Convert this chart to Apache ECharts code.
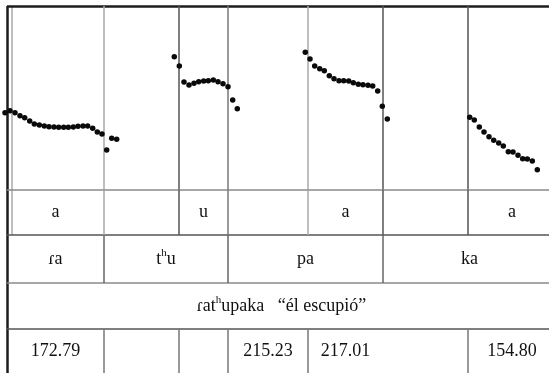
<!DOCTYPE html>
<html>
<head>
<meta charset="utf-8">
<script src="https://cdn.jsdelivr.net/npm/echarts@6/dist/echarts.min.js"></script>
<style>
  html, body { margin: 0; padding: 0; background: #fff; }
  #main { width: 549px; height: 373px; }
</style>
</head>
<body>
<div id="main"></div>
<script>
// pitch contour, one list per vowel (x = time position, y = height of the pitch trace)
const seg1X = [5, 10, 15, 20, 24.7, 29.7, 34.3, 39.3, 44.3, 49, 54, 58.7, 63.7, 68.3, 73.3, 78, 83, 87.7, 92.7, 97.3, 102, 106.7, 111.7, 116.7];
const seg1Y = [77.3, 79.3, 77.3, 74.3, 72.3, 69, 66, 65, 64, 63.3, 63, 62.7, 62.7, 62.7, 63, 63.7, 64, 64, 61.7, 58, 56, 40, 51.7, 50.7];
const seg2X = [174.3, 179.3, 184, 189, 194, 198.7, 203.7, 208.3, 213.3, 218, 223, 228, 232.7, 237.3];
const seg2Y = [133.3, 124, 108, 105, 106.7, 108.3, 109, 109.3, 110, 108.3, 106.3, 103.3, 90, 81.3];
const seg3X = [305.3, 310, 314.7, 319.7, 324.3, 329.3, 334, 339, 343.7, 348.7, 353.3, 358.3, 363, 368, 372.7, 377.7, 382.3, 387.3];
const seg3Y = [137.7, 131, 124, 121.3, 119.3, 114.3, 111.3, 109.3, 109.3, 109, 107.3, 105.7, 105.3, 104.7, 104, 99, 83.7, 71];
const seg4X = [469.7, 474.3, 479.3, 484, 489, 493.7, 498.7, 503.3, 508.3, 513, 518, 522.7, 527.3, 532.3, 537.3];
const seg4Y = [72.7, 70, 63, 58, 53.3, 49.7, 47, 44, 38.3, 38, 34.7, 31.3, 31, 29, 20.3];

// segment boundaries along the time axis
const colEdges = [7, 104, 179, 228, 308, 383, 468, 556];
const rowEdges = [0, 45, 93, 139, 183];

// table texts
const row1Labels = ['a', '', 'u', '', 'a', '', 'a'];
const row2Labels = ['{n|ɾa}', '{n|t}{s|h}{n|u}', '{n|pa}', '{n|ka}'];
const row2Spans = [1, 2, 2, 2];
const row3Label = '{n|ɾat}{s|h}{n|upaka   “él escupió”}';
const row4Labels = ['172.79', '', '', '215.23', '217.01', '', '154.80'];

// which segment boundaries are ruled in each part
const plotRules = [1, 2, 3, 4, 5, 6];
const row2Rules = [1, 3, 5];
const row4Rules = [1, 2, 3, 4, 6];

const xMax = 549;
const plotMax = 184;
const ink = '#111';
const font = '"Liberation Serif", "DejaVu Serif", serif';

// colours of the vertical rules (light / dark like the original print)
const ruleColor = { 0: '#1c1c1c', 1: '#a8a8a8', 2: '#555', 3: '#777', 4: '#a8a8a8', 5: '#555', 6: '#555' };

const zip = (xs, ys) => xs.map((x, i) => [x, ys[i]]);
const dots = [].concat(zip(seg1X, seg1Y), zip(seg2X, seg2Y), zip(seg3X, seg3Y), zip(seg4X, seg4Y));

let seg = (x0, y0, x1, y1, color, width) => [
    { coord: [x0, y0], lineStyle: { color: color, width: width, type: 'solid' } },
    { coord: [x1, y1] }
];

// lines in the plot
let plotLines = [
    seg(7, 0, 7, plotMax, '#1c1c1c', 2.5),
    seg(12, 0, 12, plotMax, '#a8a8a8', 1.5),
    seg(7, plotMax, xMax, plotMax, '#1c1c1c', 2.5)
];
plotRules.forEach(i => {
    plotLines.push(seg(colEdges[i], 0, colEdges[i], plotMax, ruleColor[i], 1.5));
});

// lines in the table
let tableLines = [
    seg(7, 0, 7, rowEdges[4], '#1c1c1c', 2.5),
    seg(12, 0, 12, rowEdges[1], '#a8a8a8', 1.5)
];
for (let r = 0; r < 4; r++) {
    tableLines.push(seg(7, rowEdges[r], xMax, rowEdges[r], r % 2 ? '#555' : '#8a8a8a', 1.5));
}
plotRules.forEach(i => {
    tableLines.push(seg(colEdges[i], rowEdges[0], colEdges[i], rowEdges[1], ruleColor[i], 1.5));
});
row2Rules.forEach(i => {
    tableLines.push(seg(colEdges[i], rowEdges[1], colEdges[i], rowEdges[2], '#666', 1.5));
});
row4Rules.forEach(i => {
    tableLines.push(seg(colEdges[i], rowEdges[3], colEdges[i], rowEdges[4], '#777', 1.5));
});

let mid = (a, b) => (a + b) / 2;
let cells = [];
row1Labels.forEach((t, i) => {
    if (t) cells.push({ name: '{n|' + t + '}', value: [mid(colEdges[i], colEdges[i + 1]), mid(rowEdges[0], rowEdges[1])] });
});
let c = 0;
row2Labels.forEach((t, i) => {
    let c1 = c + row2Spans[i];
    cells.push({ name: t, value: [mid(colEdges[c], colEdges[c1]), mid(rowEdges[1], rowEdges[2])] });
    c = c1;
});
cells.push({ name: row3Label, value: [mid(colEdges[0], colEdges[7]), mid(rowEdges[2], rowEdges[3])] });
row4Labels.forEach((t, i) => {
    if (t) cells.push({ name: '{n|' + t + '}', value: [mid(colEdges[i], colEdges[i + 1]), mid(rowEdges[3], rowEdges[4])] });
});

let myChart = echarts.init(document.getElementById('main'));
myChart.setOption({
    animation: false,
    backgroundColor: '#fff',
    grid: [
        { left: 0, right: 0, top: 6, height: 184 },
        { left: 0, right: 0, top: 190, height: 183 }
    ],
    xAxis: [
        { gridIndex: 0, type: 'value', min: 0, max: xMax, show: false },
        { gridIndex: 1, type: 'value', min: 0, max: xMax, show: false }
    ],
    yAxis: [
        { gridIndex: 0, type: 'value', min: 0, max: plotMax, show: false },
        { gridIndex: 1, type: 'value', min: 0, max: rowEdges[4], inverse: true, show: false }
    ],
    series: [
        {
            type: 'scatter',
            xAxisIndex: 0,
            yAxisIndex: 0,
            symbolSize: 5.5,
            itemStyle: { color: '#0a0a0a', opacity: 1 },
            data: dots,
            z: 5,
            markLine: {
                silent: true,
                symbol: 'none',
                label: { show: false },
                data: plotLines
            }
        },
        {
            type: 'scatter',
            xAxisIndex: 1,
            yAxisIndex: 1,
            symbolSize: 0,
            itemStyle: { opacity: 1 },
            data: cells,
            label: {
                show: true,
                position: 'inside',
                formatter: p => p.name,
                rich: {
                    n: { fontFamily: font, fontSize: 18, color: ink, lineHeight: 22 },
                    s: { fontFamily: font, fontSize: 11, color: ink, lineHeight: 12, verticalAlign: 'top' }
                }
            },
            markLine: {
                silent: true,
                symbol: 'none',
                label: { show: false },
                data: tableLines
            }
        }
    ]
});
</script>
</body>
</html>
